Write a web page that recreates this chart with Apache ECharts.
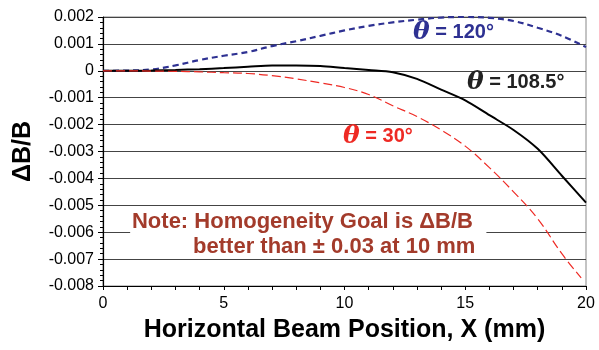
<!DOCTYPE html>
<html>
<head>
<meta charset="utf-8">
<script src="https://cdn.jsdelivr.net/npm/echarts@6/dist/echarts.min.js"></script>
<style>html,body{margin:0;padding:0;background:#fff}#c{width:599px;height:350px}</style>
</head>
<body>
<div id="c"></div>
<script>
const xs = [0,1,2,3,4,5,6,7,8,9,10,11,12,13,14,15,16,17,18,19,20];
const xsRed = [0,1,2,3,4,5,6,7,8,9,10,11,12,13,14,15,16,17,18,19,19.8];
const theta120 = [0,0.00001,0.00005,0.0002,0.0004,0.00056,0.0007,0.00092,0.0011,0.0013,0.0015,0.00167,0.0018,0.0019,0.00198,0.002,0.00197,0.00185,0.0016,0.0013,0.00088];
const theta1085 = [0,0,0.00001,0.00003,0.00006,0.0001,0.00015,0.0002,0.0002,0.00018,0.0001,0.00003,-0.00005,-0.0003,-0.0007,-0.0011,-0.00165,-0.0022,-0.0029,-0.0039,-0.0049];
const theta30 = [0,0,-0.00001,-0.00002,-0.00004,-0.00007,-0.0001,-0.00018,-0.0003,-0.00045,-0.00062,-0.00088,-0.0013,-0.0017,-0.0022,-0.0028,-0.0036,-0.0045,-0.0055,-0.0068,-0.0077];
const yTicks = ['0.002','0.001','0','-0.001','-0.002','-0.003','-0.004','-0.005','-0.006','-0.007','-0.008'];

const pair = (a,b)=>a.map((v,i)=>[v,b[i]]);
const chart = echarts.init(document.getElementById('c'));
const F = 'Arial, "Liberation Sans", sans-serif';
chart.setOption({
  animation:false,
  grid:{left:103,right:13,top:17,bottom:64,containLabel:false,outerBoundsMode:'none',show:true,borderColor:'#888',borderWidth:1,backgroundColor:'transparent'},
  xAxis:{type:'value',min:0,max:20,interval:5,
    name:'Horizontal Beam Position, X (mm)',nameLocation:'middle',nameGap:32,
    nameTextStyle:{fontFamily:F,fontSize:25,fontWeight:'bold',color:'#000'},
    axisLine:{show:true,onZero:false,lineStyle:{color:'#000',width:1.2}},
    axisTick:{show:true,inside:false,length:4,lineStyle:{color:'#000'}},
    minorTick:{show:true,splitNumber:5,length:4,lineStyle:{color:'#000'}},
    axisLabel:{fontFamily:F,fontSize:16,color:'#000',margin:10},
    splitLine:{show:false}},
  yAxis:{type:'value',min:-0.008,max:0.002,interval:0.001,
    name:'\u0394B/B',nameLocation:'middle',nameGap:67,
    nameTextStyle:{fontFamily:F,fontSize:25,fontWeight:'bold',color:'#000'},
    axisLine:{show:true,onZero:false,lineStyle:{color:'#000',width:1.2}},
    axisTick:{show:true,length:5,lineStyle:{color:'#000'}},
    minorTick:{show:true,splitNumber:5,length:3,lineStyle:{color:'#000'}},
    axisLabel:{fontFamily:F,fontSize:16,color:'#000',margin:9,
      formatter:(v)=>{const i=Math.round((0.002-v)/0.001);return yTicks[i]!==undefined?yTicks[i]:'';}},
    splitLine:{show:true,lineStyle:{color:'#444',width:1}}},
  series:[
    {type:'line',data:pair(xs,theta120),smooth:0.4,symbol:'none',z:3,
      lineStyle:{color:'#2e3192',width:2.2,type:[6,4]}},
    {type:'line',data:pair(xs,theta1085),smooth:0.3,symbol:'none',z:3,
      lineStyle:{color:'#000',width:2}},
    {type:'line',data:pair(xsRed,theta30),smooth:0.4,symbol:'none',z:3,
      lineStyle:{color:'#ee2a24',width:1.2,type:[9,4]}}
  ]
});

function txtAt(x,y,rich,parts,z){
  const p = chart.convertToPixel({gridIndex:0},[x,y]);
  return {type:'text',x:p[0],y:p[1],z:z||10,style:{text:parts,rich:rich,verticalAlign:'middle',align:'left'}};
}
function thetaRich(color){
  return {
    t:{fontFamily:'"DejaVu Serif", serif',fontStyle:'italic',fontWeight:'bold',fontSize:25,fill:color,color:color},
    r:{fontFamily:F,fontWeight:'bold',fontSize:20,fill:color,color:color}
  };
}
const noteColor = '#a33b2b';
const pNote = chart.convertToPixel({gridIndex:0},[1.0,-0.006]);
const pNoteEnd = chart.convertToPixel({gridIndex:0},[16.0,-0.006]);
function noteLine(x,y,s){
  const p = chart.convertToPixel({gridIndex:0},[x,y]);
  return {type:'text',x:p[0],y:p[1],z:10,style:{text:s,fontFamily:F,fontWeight:'bold',fontSize:22,fill:noteColor,verticalAlign:'middle',align:'left'}};
}
chart.setOption({graphic:[
  {type:'rect',z:5,shape:{x:pNote[0]+3,y:pNote[1]-22,width:pNoteEnd[0]-pNote[0]-6,height:44},style:{fill:'#fff'}},
  txtAt(12.84,0.00142,thetaRich('#2e3192'),'{t|\u03b8}{r| = 120\u00b0}'),
  txtAt(15.07,-0.00045,thetaRich('#222'),'{t|\u03b8}{r| = 108.5\u00b0}'),
  txtAt(9.94,-0.00246,thetaRich('#ee2a24'),'{t|\u03b8}{r| = 30\u00b0}'),
  noteLine(1.2,-0.00562,'Note: Homogeneity Goal is \u0394B/B'),
  noteLine(3.73,-0.00655,'better than \u00b1 0.03 at 10 mm')
]});
</script>
</body>
</html>
